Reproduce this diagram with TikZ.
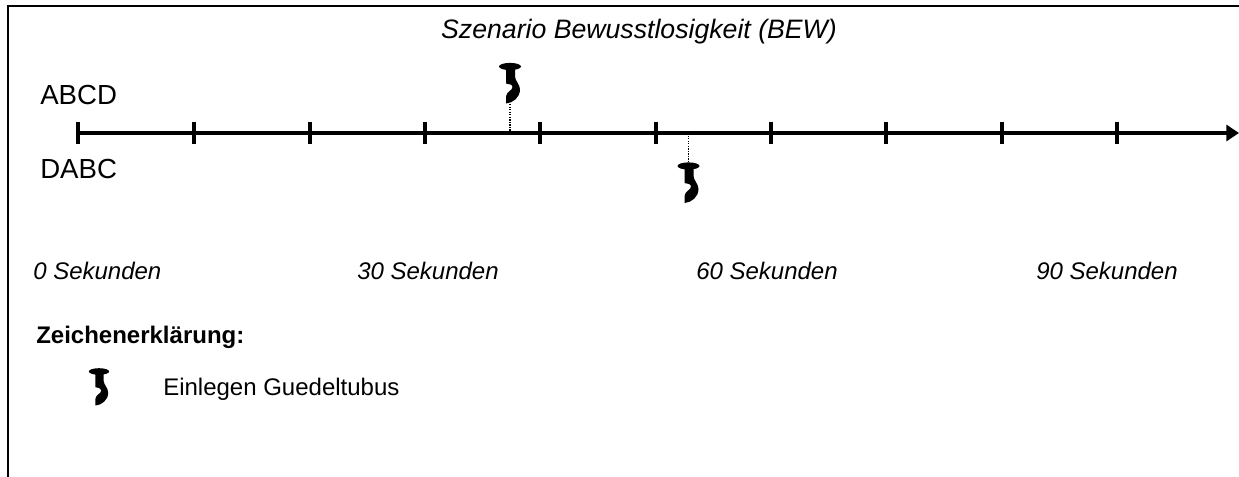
\documentclass[tikz,border=0pt]{standalone}
\usepackage{fontspec}
\setmainfont{Liberation Sans}
\usetikzlibrary{arrows.meta}
\tikzset{
  pxscale/.style={x=0.75pt,y=-0.75pt},
  axisline/.style={line width=3pt,-{Triangle[length=9.5pt,width=12pt]}},
  tickline/.style={line width=3pt},
  dotline/.style={line width=1pt,dash pattern=on 1pt off 0.9pt},
  framel/.style={line width=1.2pt},
  lab/.style={font=\fontsize{20.7}{24}\selectfont,inner sep=0pt},
  title/.style={font=\fontsize{20}{24}\selectfont\itshape,inner sep=0pt},
  time/.style={font=\fontsize{18}{21}\selectfont\itshape,inner sep=0pt},
  legend/.style={font=\fontsize{18}{21}\selectfont,inner sep=0pt},
  guedel/.pic={
    \fill[black] (0,0) ellipse [x radius=11,y radius=3.6];
    \fill[black] (-4,2) -- (-4,17) .. controls (-1,17.5) and (2.5,18) .. (2.5,20.5)
      .. controls (2.5,24) and (-3.5,25) .. (-4,30) -- (-4,37)
      .. controls (3,36.5) and (10,31) .. (10,23)
      .. controls (10,18) and (5,14) .. (5,10) -- (5,2) -- cycle;
  }
}
\begin{document}
\begin{tikzpicture}[pxscale]
\useasboundingbox (0,0) rectangle (1239,477);
\coordinate (fb) at (8,477); \coordinate (ftl) at (8,6); \coordinate (fr) at (1239,6);
\draw[framel] (fb) -- (ftl) -- (fr);
\node[title,anchor=base] (ttl) at (639,39) {Szenario Bewusstlosigkeit (BEW)};
\node[lab,anchor=base west] (abcd) at (40,105) {ABCD};
\node[lab,anchor=base west] (dabc) at (40,179) {DABC};
\coordinate (a0) at (78,133); \coordinate (a1) at (1239,133);
\draw[axisline] (a0) -- (a1);
\foreach \i/\x in {0/78,1/194,2/310,3/425,4/540,5/656,6/771,7/886,8/1002,9/1117}{
  \coordinate (tt\i) at (\x,122); \coordinate (tb\i) at (\x,144);
  \draw[tickline] (tt\i) -- (tb\i);
}
\coordinate (d1t) at (510,104); \coordinate (d1b) at (510,133);
\coordinate (d2t) at (688.5,133); \coordinate (d2b) at (688.5,162);
\draw[dotline] (d1t) -- (d1b);
\draw[dotline] (d2t) -- (d2b);
\pic at (510,66.5) {guedel};
\pic at (688.5,166) {guedel};
\pic[scale=0.92] at (99,371.5) {guedel};
\node[time,anchor=base west] (t0) at (33,280) {0 Sekunden};
\node[time,anchor=base west] (t30) at (357,280) {30 Sekunden};
\node[time,anchor=base west] (t60) at (696,280) {60 Sekunden};
\node[time,anchor=base west] (t90) at (1036,280) {90 Sekunden};
\node[anchor=base west,inner sep=0pt,font=\fontsize{18}{21}\selectfont\bfseries] (z) at (36,344) {Zeichenerklärung:};
\node[legend,anchor=base west] (e) at (163,395) {Einlegen Guedeltubus};
\end{tikzpicture}
\end{document}
